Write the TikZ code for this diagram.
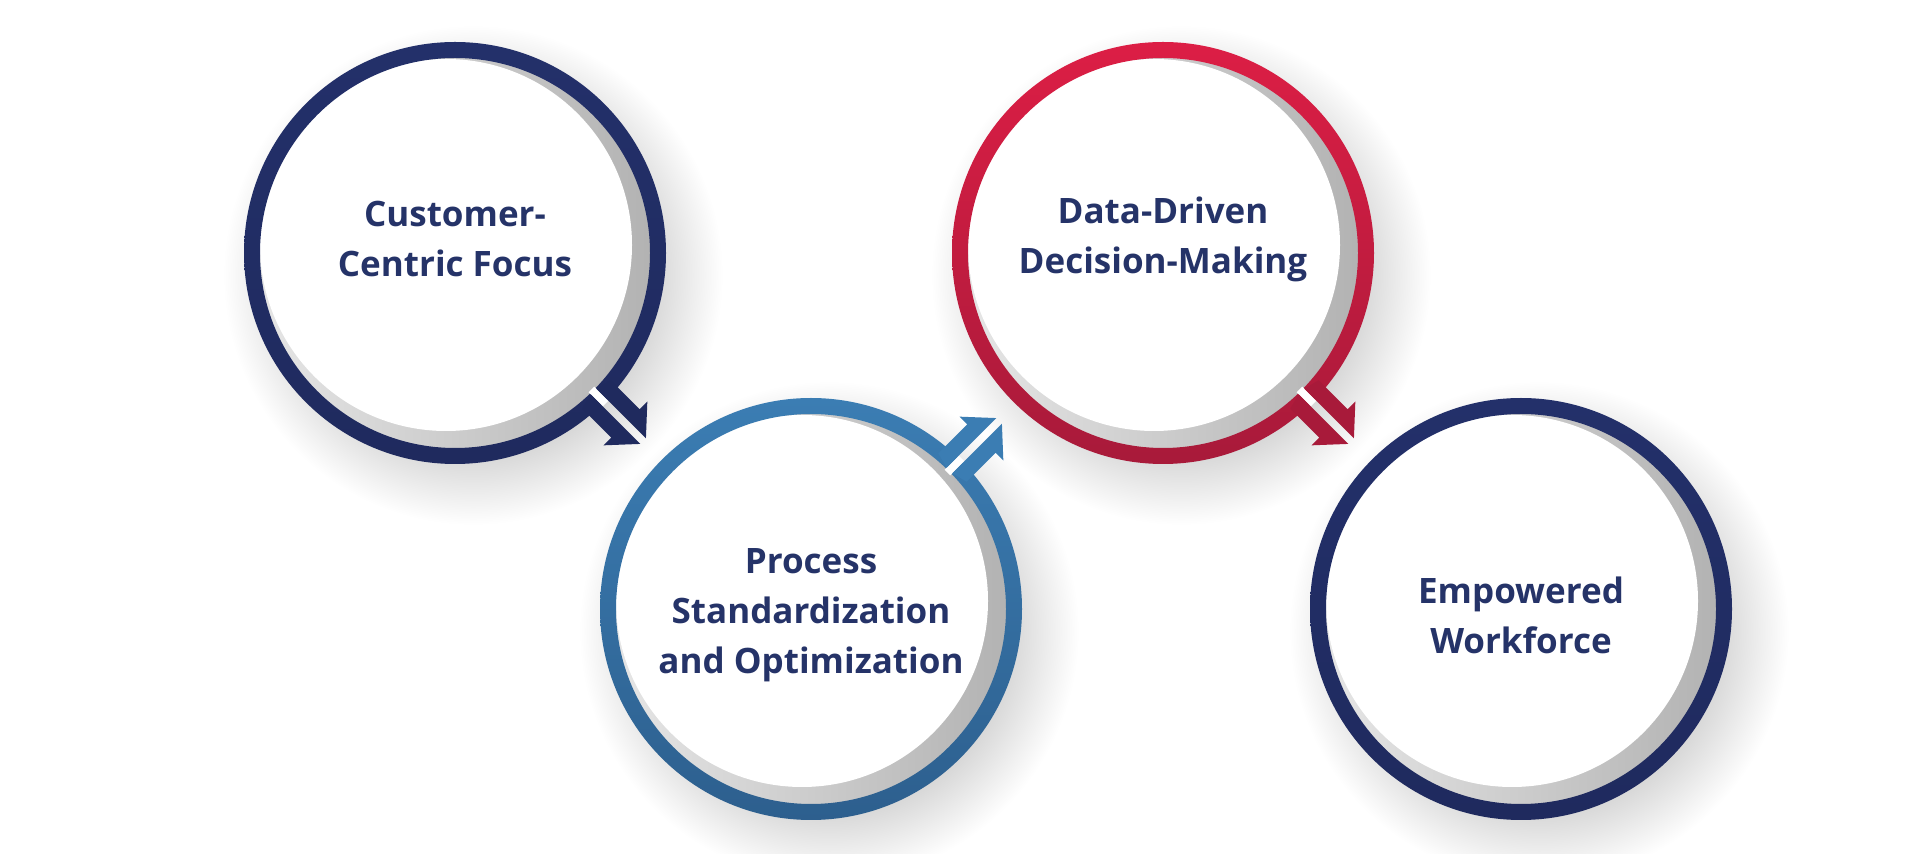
\documentclass[tikz,border=0pt]{standalone}
\usepackage{fontspec}
\setmainfont{Open Sans}
\definecolor{navy}{HTML}{23306A}
\definecolor{navyd}{HTML}{1F2A5E}
\definecolor{blueA}{HTML}{3B7DB3}
\definecolor{blueB}{HTML}{2D5F8E}
\definecolor{redA}{HTML}{DC1E45}
\definecolor{redB}{HTML}{A81A3A}
\definecolor{txt}{HTML}{253368}
\pgfdeclareradialshading{myshadow}{\pgfpoint{0bp}{0bp}}{color(0bp)=(black!20); color(18bp)=(black!16); color(25bp)=(white)}
\tikzset{lbl/.style={font=\fontsize{35}{50}\selectfont\bfseries, text=txt, align=center}}
\newcommand{\disc}[3]{%
  \begin{scope}[shift={#1}]
    \shade[left color=black!10, right color=black!30] (0,0) circle (196);
    \fill[white] (-9,8) circle (186);
    \shade[top color=#2, bottom color=#3, even odd rule] (0,0) circle (211) (0,0) circle (195);
  \end{scope}}
\newcommand{\splitarrow}[3]{%
  \begin{scope}[shift={#1}, rotate=#2]
    \fill[white] (193,-4) rectangle (213,4);
    \fill[#3] (196,4) -- (266,4) -- (241,31) -- (241,20) -- (200,20) -- cycle;
    \fill[#3] (196,-4) -- (266,-4) -- (241,-31) -- (241,-20) -- (200,-20) -- cycle;
  \end{scope}}
\begin{document}
\begin{tikzpicture}[x=1pt,y=1pt]
\useasboundingbox (0,0) rectangle (1920,854);
\fill[white] (0,0) rectangle (1920,854);
\coordinate (c1) at (455,601);
\coordinate (c2) at (811,245);
\coordinate (c3) at (1163,601);
\coordinate (c4) at (1521,245);
\foreach \c in {c1,c2,c3,c4}{
  \shade[shading=myshadow] ([shift={(18,-22)}]\c) circle (250);
}
\disc{(c1)}{navy}{navyd}
\disc{(c2)}{blueA}{blueB}
\disc{(c3)}{redA}{redB}
\disc{(c4)}{navy}{navyd}
\splitarrow{(c1)}{-45}{navyd}
\splitarrow{(c2)}{45}{blueA}
\splitarrow{(c3)}{-45}{redB}
\node[lbl] (t1) at ([yshift=14]c1) {Customer-\\Centric Focus};
\node[lbl] (t2) at ([yshift=-6]c2) {Process\\Standardization\\and Optimization};
\node[lbl] (t3) at ([yshift=14]c3) {Data-Driven\\Decision-Making};
\node[lbl] (t4) at ([yshift=-6]c4) {Empowered\\Workforce};
\end{tikzpicture}
\end{document}
